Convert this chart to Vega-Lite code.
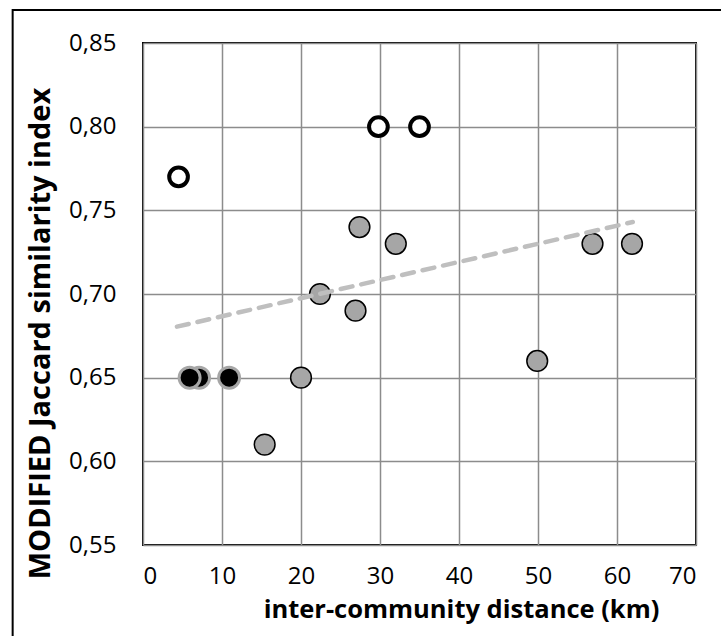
{
  "$schema": "https://vega.github.io/schema/vega-lite/v6.json",
  "width": 553,
  "height": 502,
  "autosize": {"type": "none"},
  "padding": {"left": 143, "top": 43, "right": 25, "bottom": 91},
  "background": "white",
  "config": {
    "view": {"stroke": "black", "strokeWidth": 2},
    "axis": {
      "domain": false,
      "ticks": false,
      "grid": true,
      "gridColor": "#8c8c8c",
      "gridWidth": 1.5,
      "labelFont": "Open Sans",
      "labelFontSize": 24,
      "labelColor": "black",
      "titleFont": "Open Sans",
      "titleFontWeight": "bold",
      "titleColor": "black"
    }
  },
  "datasets": {
    "pts": [
      {"dist": 15.4, "jac": 0.61, "type": "gray"},
      {"dist": 20.0, "jac": 0.65, "type": "gray"},
      {"dist": 22.4, "jac": 0.70, "type": "gray"},
      {"dist": 27.4, "jac": 0.74, "type": "gray"},
      {"dist": 26.9, "jac": 0.69, "type": "gray"},
      {"dist": 32.0, "jac": 0.73, "type": "gray"},
      {"dist": 49.9, "jac": 0.66, "type": "gray"},
      {"dist": 56.9, "jac": 0.73, "type": "gray"},
      {"dist": 61.9, "jac": 0.73, "type": "gray"},
      {"dist": 7.1, "jac": 0.65, "type": "black"},
      {"dist": 5.9, "jac": 0.65, "type": "black"},
      {"dist": 10.9, "jac": 0.65, "type": "black"},
      {"dist": 4.5, "jac": 0.77, "type": "open"},
      {"dist": 29.8, "jac": 0.80, "type": "open"},
      {"dist": 35.0, "jac": 0.80, "type": "open"}
    ],
    "trend": [
      {"dist": 4.3, "jac": 0.6805},
      {"dist": 62.0, "jac": 0.743}
    ]
  },
  "layer": [
    {
      "data": {"name": "pts"},
      "transform": [{"filter": "datum.type === 'gray'"}],
      "mark": {"type": "point", "shape": "circle", "filled": true, "fill": "#a6a6a6", "stroke": "black", "strokeWidth": 1.5, "size": 430, "opacity": 1},
      "encoding": {
        "x": {
          "field": "dist", "type": "quantitative",
          "scale": {"domain": [0, 70], "nice": false},
          "axis": {"values": [0, 10, 20, 30, 40, 50, 60, 70], "labelPadding": 19, "title": "inter-community distance  (km)", "titleFontSize": 25.5, "titlePadding": 9, "titleX": 318}
        },
        "y": {
          "field": "jac", "type": "quantitative",
          "scale": {"domain": [0.55, 0.85], "nice": false, "zero": false},
          "axis": {"values": [0.55, 0.6, 0.65, 0.7, 0.75, 0.8, 0.85], "labelExpr": "replace(format(datum.value, '.2f'), '.', ',')", "labelPadding": 27, "title": "MODIFIED Jaccard similarity index", "titleFontSize": 29, "titlePadding": 13, "titleY": 290}
        }
      }
    },
    {
      "data": {"name": "pts"},
      "transform": [{"filter": "datum.type === 'black'"}],
      "mark": {"type": "point", "shape": "circle", "filled": true, "fill": "black", "stroke": "#a6a6a6", "strokeWidth": 3, "size": 440, "opacity": 1},
      "encoding": {
        "x": {"field": "dist", "type": "quantitative"},
        "y": {"field": "jac", "type": "quantitative"}
      }
    },
    {
      "data": {"name": "pts"},
      "transform": [{"filter": "datum.type === 'open'"}],
      "mark": {"type": "point", "shape": "circle", "filled": true, "fill": "white", "stroke": "black", "strokeWidth": 4, "size": 350, "opacity": 1},
      "encoding": {
        "x": {"field": "dist", "type": "quantitative"},
        "y": {"field": "jac", "type": "quantitative"}
      }
    },
    {
      "data": {"name": "trend"},
      "mark": {"type": "line", "color": "#bfbfbf", "strokeWidth": 4.5, "strokeDash": [12, 9], "strokeCap": "round"},
      "encoding": {
        "x": {"field": "dist", "type": "quantitative"},
        "y": {"field": "jac", "type": "quantitative"}
      }
    },
    {
      "data": {"values": [{}]},
      "mark": {"type": "rect", "fill": null, "stroke": "black", "strokeWidth": 2, "clip": false},
      "encoding": {
        "x": {"datum": -16.5},
        "x2": {"datum": 76},
        "y": {"datum": 0.8697},
        "y2": {"datum": 0.47}
      }
    }
  ]
}
